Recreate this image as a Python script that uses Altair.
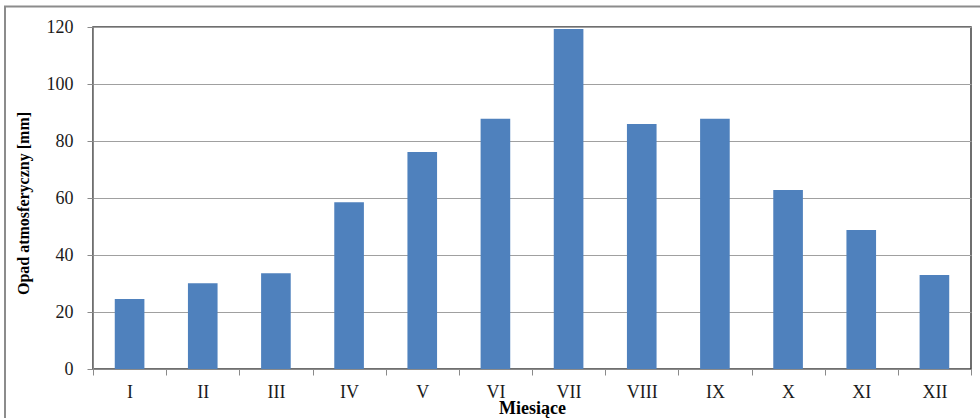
import altair as alt
import pandas as pd

# Monthly precipitation totals (mm)
months = ["I", "II", "III", "IV", "V", "VI", "VII", "VIII", "IX", "X", "XI", "XII"]
precip = [24.6, 30.1, 33.6, 58.5, 76.1, 87.8, 119.3, 86.0, 87.8, 62.8, 48.8, 33.0]
y_ticks = [0, 20, 40, 60, 80, 100, 120]

df = pd.DataFrame({"miesiac": months, "opad": precip})

FONT = "Liberation Serif"
W, H = 878, 342

bars = alt.Chart(df).mark_bar(
    color="#4F81BD",
    width=alt.RelativeBandSize(0.405),
).encode(
    x=alt.X(
        "miesiac:N",
        sort=months,
        scale=alt.Scale(paddingInner=0, paddingOuter=0),
        axis=alt.Axis(
            title="Miesiące",
            labelAngle=0,
            tickBand="extent",
            tickSize=6,
            labelPadding=8,
            labelFontSize=18,
            grid=False,
            domainColor="#8a8a8a",
            tickColor="#8a8a8a",
            titleFontSize=18,
            titleBaseline="alphabetic",
            titleY=44.5,
        ),
    ),
    y=alt.Y(
        "opad:Q",
        scale=alt.Scale(domain=[0, 120], nice=False),
        axis=alt.Axis(
            title="Opad atmosferyczny [mm]",
            values=y_ticks,
            tickSize=6,
            labelPadding=14,
            labelFontSize=18,
            grid=True,
            gridColor="#a0a0a0",
            domainColor="#8a8a8a",
            tickColor="#8a8a8a",
            titleFontSize=16,
            titleBaseline="alphabetic",
            titleX=-65,
            titleY=176,
        ),
    ),
)

# Outer chart frame
frame = alt.Chart(pd.DataFrame({"k": [0]})).mark_rect(
    filled=False, stroke="#8c8c8c", strokeWidth=2
).encode(
    x=alt.value(-88),
    x2=alt.value(W + 40),
    y=alt.value(-20.5),
    y2=alt.value(H + 80),
)

chart = alt.layer(frame, bars).properties(
    width=W,
    height=H,
    autosize=alt.AutoSizeParams(type="none"),
    padding={"left": 93, "top": 27, "right": 9, "bottom": 49},
    background="white",
).configure_view(
    stroke="#404040", strokeWidth=1.5
).configure_axis(
    labelFont=FONT,
    titleFont=FONT,
    titleFontWeight="bold",
    labelColor="#1a1a1a",
    titleColor="#000000",
)

chart.save("out.html", embed_options={"renderer": "svg", "actions": False})
